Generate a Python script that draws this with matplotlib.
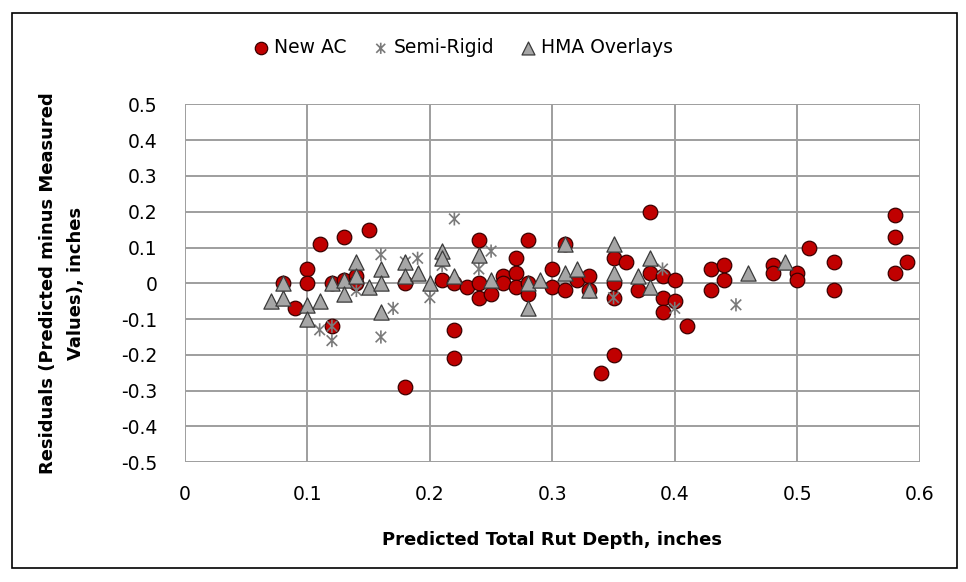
import matplotlib
matplotlib.use("Agg")
import matplotlib.pyplot as plt
from matplotlib.path import Path
from matplotlib.patches import Rectangle

# ---- data ----
new_ac_x = [0.08, 0.09, 0.10, 0.10, 0.11, 0.12, 0.12, 0.13, 0.13, 0.14,
            0.14, 0.15, 0.18, 0.18, 0.21, 0.22, 0.22, 0.22, 0.23, 0.24,
            0.24, 0.24, 0.25, 0.26, 0.26, 0.27, 0.27, 0.27, 0.28, 0.28,
            0.28, 0.30, 0.30, 0.31, 0.31, 0.32, 0.33, 0.33, 0.34, 0.35,
            0.35, 0.35, 0.35, 0.36, 0.37, 0.38, 0.38, 0.39, 0.39, 0.39,
            0.40, 0.40, 0.41, 0.43, 0.43, 0.44, 0.44, 0.48, 0.48, 0.50,
            0.50, 0.51, 0.53, 0.53, 0.58, 0.58, 0.58, 0.59]
new_ac_y = [0.00, -0.07, 0.04, 0.00, 0.11, -0.12, 0.00, 0.13, 0.01, 0.02,
            0.00, 0.15, 0.00, -0.29, 0.01, 0.00, -0.13, -0.21, -0.01, 0.12,
            0.00, -0.04, -0.03, 0.02, 0.00, 0.07, 0.03, -0.01, 0.12, 0.00,
            -0.03, 0.04, -0.01, 0.11, -0.02, 0.01, 0.02, -0.02, -0.25, 0.07,
            0.00, -0.04, -0.20, 0.06, -0.02, 0.20, 0.03, 0.02, -0.04, -0.08,
            0.01, -0.05, -0.12, 0.04, -0.02, 0.05, 0.01, 0.05, 0.03, 0.03,
            0.01, 0.10, 0.06, -0.02, 0.19, 0.13, 0.03, 0.06]

semi_x = [0.11, 0.12, 0.12, 0.14, 0.16, 0.16, 0.17, 0.18, 0.19, 0.20,
          0.21, 0.22, 0.24, 0.25, 0.35, 0.39, 0.40, 0.45]
semi_y = [-0.13, -0.16, -0.12, -0.02, 0.08, -0.15, -0.07, 0.06, 0.07, -0.04,
          0.05, 0.18, 0.04, 0.09, -0.04, 0.04, -0.07, -0.06]

hma_x = [0.07, 0.08, 0.08, 0.10, 0.10, 0.11, 0.12, 0.13, 0.13, 0.14,
         0.14, 0.15, 0.16, 0.16, 0.16, 0.18, 0.18, 0.19, 0.20, 0.21,
         0.21, 0.22, 0.24, 0.25, 0.28, 0.28, 0.29, 0.31, 0.31, 0.32,
         0.33, 0.35, 0.35, 0.37, 0.38, 0.38, 0.46, 0.49]
hma_y = [-0.05, -0.04, 0.00, -0.06, -0.10, -0.05, 0.00, 0.01, -0.03, 0.06,
         0.02, -0.01, 0.04, 0.00, -0.08, 0.06, 0.02, 0.03, 0.00, 0.09,
         0.07, 0.02, 0.08, 0.01, 0.00, -0.07, 0.01, 0.11, 0.03, 0.04,
         -0.02, 0.11, 0.03, 0.02, 0.07, -0.01, 0.03, 0.06]

series_names = ["New AC", "Semi-Rigid", "HMA Overlays"]
x_ticks = [0, 0.1, 0.2, 0.3, 0.4, 0.5, 0.6]
y_ticks = [0.5, 0.4, 0.3, 0.2, 0.1, 0, -0.1, -0.2, -0.3, -0.4, -0.5]
x_label = "Predicted Total Rut Depth, inches"
y_label = "Residuals (Predicted minus Measured\nValues), inches"

plt.rcParams['font.family'] = ['DejaVu Sans']

fig = plt.figure(figsize=(9.66, 5.82), dpi=100)
fig.patch.set_facecolor("white")
fig.patches.append(Rectangle((0.012, 0.024), 0.979, 0.954, transform=fig.transFigure,
                             fill=False, edgecolor="black", linewidth=1.2))

ax = fig.add_axes([0.1915, 0.2057, 0.7605, 0.6150])

star = Path([(-1, -1), (1, 1), (-1, 1), (1, -1), (0, -1.25), (0, 1.25)],
            [Path.MOVETO, Path.LINETO, Path.MOVETO, Path.LINETO, Path.MOVETO, Path.LINETO])

ax.scatter(new_ac_x, new_ac_y, s=110, marker='o', facecolor='#c00000',
           edgecolor='#3a0000', linewidth=0.9, zorder=3, label=series_names[0])
ax.scatter(semi_x, semi_y, s=90, marker=star, facecolor='none',
           edgecolor='#7a7a7a', linewidth=1.2, zorder=4, label=series_names[1])
ax.scatter(hma_x, hma_y, s=120, marker='^', facecolor='#a6a6a6',
           edgecolor='#3a3a3a', linewidth=0.9, zorder=5, label=series_names[2])

ax.set_xlim(0, 0.6)
ax.set_ylim(-0.5, 0.5)
ax.set_xticks(x_ticks)
ax.set_xticklabels(["0" if v == 0 else f"{v:g}" for v in x_ticks])
ax.set_yticks(y_ticks)
ax.set_yticklabels(["0" if v == 0 else f"{v:g}" for v in y_ticks])
ax.grid(True, color='#9e9e9e', linewidth=1.4, zorder=0)
ax.set_axisbelow(True)
for s in ax.spines.values():
    s.set_visible(False)
ax.tick_params(axis='x', length=0, labelsize=13.5, pad=16)
ax.tick_params(axis='y', length=0, labelsize=13.5, pad=20)

ax.set_xlabel(x_label, fontsize=13, fontweight='bold', labelpad=20)
ax.set_ylabel(y_label, fontsize=13, fontweight='bold', labelpad=26, linespacing=1.7)

leg = fig.legend(loc='center', bbox_to_anchor=(0.478, 0.918), ncol=3, frameon=False,
                 fontsize=13.5, handletextpad=0.1, columnspacing=1.2,
                 markerscale=0.85, handlelength=1.2)

fig.savefig("out.png", dpi=100, facecolor="white")
